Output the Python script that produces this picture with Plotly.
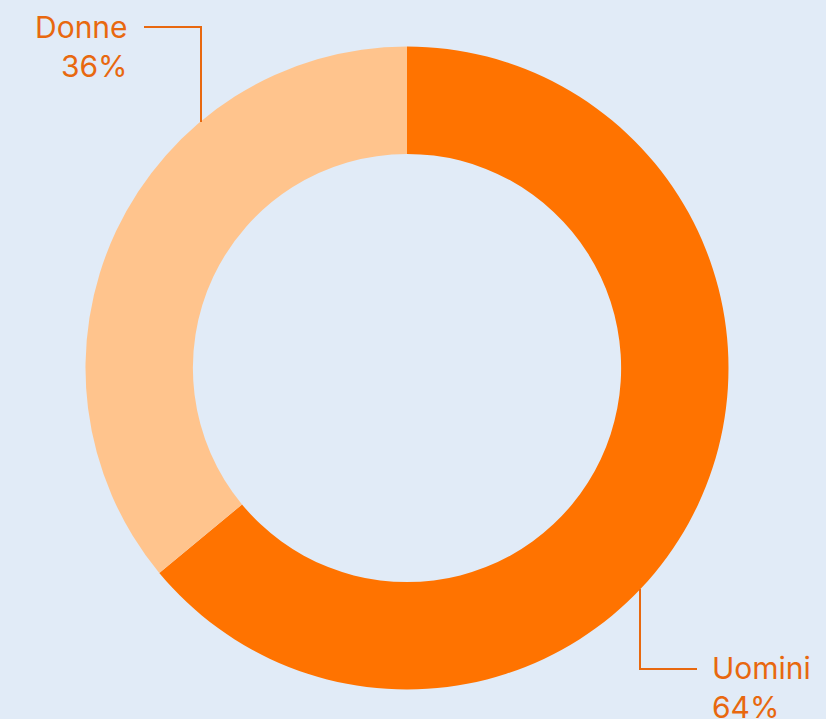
import plotly.graph_objects as go

labels = ["Uomini", "Donne"]
values = [64, 36]
colors = ["#FF7300", "#FFC48D"]

W, H = 826, 719
BG = "#E1EBF7"
TXT = "#E8680F"

def px(x):
    return x / W

def py(y):
    return 1 - y / H

cx, cy, r = 407, 368, 321.5

fig = go.Figure(go.Pie(
    labels=labels, values=values, sort=False, direction="clockwise", rotation=0,
    hole=0.666, marker=dict(colors=colors, line=dict(width=0)),
    textinfo="none", hoverinfo="label+percent", showlegend=False,
    domain=dict(x=[px(cx - r), px(cx + r)], y=[py(cy + r), py(cy - r)]),
))

line = dict(color=TXT, width=2)
fig.add_shape(type="path", xref="paper", yref="paper",
              path=f"M {px(144)} {py(27)} L {px(201)} {py(27)} L {px(201)} {py(122)}",
              line=line)
fig.add_shape(type="path", xref="paper", yref="paper",
              path=f"M {px(640)} {py(589)} L {px(640)} {py(669)} L {px(697)} {py(669)}",
              line=line)

font = dict(family="Inter", size=30, color=TXT)
fig.add_annotation(xref="paper", yref="paper", x=px(130), y=py(46),
                   text=f"{labels[1]}<br>{values[1]}%", showarrow=False,
                   xanchor="right", yanchor="middle", align="right", font=font)
fig.add_annotation(xref="paper", yref="paper", x=px(710), y=py(687),
                   text=f"{labels[0]}<br>{values[0]}%", showarrow=False,
                   xanchor="left", yanchor="middle", align="left", font=font)

fig.update_layout(width=W, height=H, margin=dict(l=0, r=0, t=0, b=0),
                  paper_bgcolor=BG, plot_bgcolor=BG)
fig.write_html("out.html", config={"displayModeBar": False},
               post_script="document.body.style.margin='0';document.body.style.overflow='hidden';")
